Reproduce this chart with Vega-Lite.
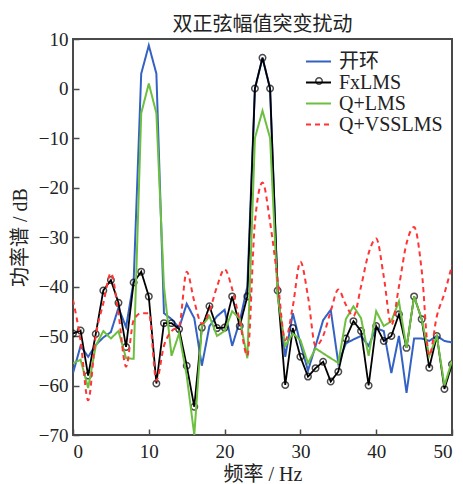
{
  "$schema": "https://vega.github.io/schema/vega-lite/v6.json",
  "width": 379,
  "height": 396,
  "autosize": "none",
  "padding": {"left": 73, "top": 39, "right": 11, "bottom": 49},
  "background": "white",
  "title": {"text": "双正弦幅值突变扰动", "fontSize": 20, "font": "Liberation Serif, Noto Sans CJK SC", "fontWeight": "normal", "color": "#222", "offset": -5},
  "config": {
    "view": {"stroke": "#4a4a4a", "strokeWidth": 2},
    "axis": {"grid": false, "domain": false, "tickColor": "#4a4a4a", "tickWidth": 1.5, "tickSize": -6, "labelFont": "Liberation Serif", "labelFontSize": 19, "labelColor": "#222", "titleFont": "Liberation Serif, Noto Sans CJK SC", "titleFontSize": 20, "titleFontWeight": "normal", "titleColor": "#222"}
  },
  "data": {"values": [
    {"f":0,"s":"开环","v":-57.5},{"f":1,"s":"开环","v":-52},{"f":2,"s":"开环","v":-54.2},{"f":3,"s":"开环","v":-51.8},{"f":4,"s":"开环","v":-50.3},{"f":5,"s":"开环","v":-49.2},{"f":6,"s":"开环","v":-44.3},{"f":7,"s":"开环","v":-48.2},{"f":8,"s":"开环","v":-39},{"f":9,"s":"开环","v":3},{"f":10,"s":"开环","v":8.7},{"f":11,"s":"开环","v":3},{"f":12,"s":"开环","v":-45.4},{"f":13,"s":"开环","v":-46.6},{"f":14,"s":"开环","v":-48.4},{"f":15,"s":"开环","v":-43.5},{"f":16,"s":"开环","v":-46.4},{"f":17,"s":"开环","v":-56},{"f":18,"s":"开环","v":-48},{"f":19,"s":"开环","v":-46},{"f":20,"s":"开环","v":-44.7},{"f":21,"s":"开环","v":-52},{"f":22,"s":"开环","v":-47},{"f":23,"s":"开环","v":-40},{"f":24,"s":"开环","v":0},{"f":25,"s":"开环","v":6.2},{"f":26,"s":"开环","v":0},{"f":27,"s":"开环","v":-41},{"f":28,"s":"开环","v":-54.2},{"f":29,"s":"开环","v":-45.4},{"f":30,"s":"开环","v":-51.5},{"f":31,"s":"开环","v":-57},{"f":32,"s":"开环","v":-52},{"f":33,"s":"开环","v":-46.8},{"f":34,"s":"开环","v":-44.7},{"f":35,"s":"开环","v":-55.5},{"f":36,"s":"开环","v":-51.5},{"f":37,"s":"开环","v":-50.7},{"f":38,"s":"开环","v":-50},{"f":39,"s":"开环","v":-52},{"f":40,"s":"开环","v":-48.4},{"f":41,"s":"开环","v":-49},{"f":42,"s":"开环","v":-57.5},{"f":43,"s":"开环","v":-50},{"f":44,"s":"开环","v":-61.5},{"f":45,"s":"开环","v":-50.5},{"f":46,"s":"开环","v":-50.5},{"f":47,"s":"开环","v":-51},{"f":48,"s":"开环","v":-50},{"f":49,"s":"开环","v":-51},{"f":50,"s":"开环","v":-51.3},
    {"f":0,"s":"FxLMS","v":-49.5},{"f":1,"s":"FxLMS","v":-48.9},{"f":2,"s":"FxLMS","v":-58},{"f":3,"s":"FxLMS","v":-49.6},{"f":4,"s":"FxLMS","v":-40.8},{"f":5,"s":"FxLMS","v":-38.7},{"f":6,"s":"FxLMS","v":-43.3},{"f":7,"s":"FxLMS","v":-52.2},{"f":8,"s":"FxLMS","v":-39.2},{"f":9,"s":"FxLMS","v":-37},{"f":10,"s":"FxLMS","v":-42},{"f":11,"s":"FxLMS","v":-59.6},{"f":12,"s":"FxLMS","v":-47.4},{"f":13,"s":"FxLMS","v":-47.4},{"f":14,"s":"FxLMS","v":-48.6},{"f":15,"s":"FxLMS","v":-56},{"f":16,"s":"FxLMS","v":-64.3},{"f":17,"s":"FxLMS","v":-48.3},{"f":18,"s":"FxLMS","v":-44},{"f":19,"s":"FxLMS","v":-48.4},{"f":20,"s":"FxLMS","v":-48.3},{"f":21,"s":"FxLMS","v":-42},{"f":22,"s":"FxLMS","v":-48},{"f":23,"s":"FxLMS","v":-42},{"f":24,"s":"FxLMS","v":0},{"f":25,"s":"FxLMS","v":6.2},{"f":26,"s":"FxLMS","v":0},{"f":27,"s":"FxLMS","v":-40.8},{"f":28,"s":"FxLMS","v":-59.9},{"f":29,"s":"FxLMS","v":-48.4},{"f":30,"s":"FxLMS","v":-54.2},{"f":31,"s":"FxLMS","v":-58.2},{"f":32,"s":"FxLMS","v":-56.5},{"f":33,"s":"FxLMS","v":-55.2},{"f":34,"s":"FxLMS","v":-59.2},{"f":35,"s":"FxLMS","v":-57.2},{"f":36,"s":"FxLMS","v":-50.5},{"f":37,"s":"FxLMS","v":-47},{"f":38,"s":"FxLMS","v":-49},{"f":39,"s":"FxLMS","v":-60},{"f":40,"s":"FxLMS","v":-48},{"f":41,"s":"FxLMS","v":-51},{"f":42,"s":"FxLMS","v":-50},{"f":43,"s":"FxLMS","v":-45.6},{"f":44,"s":"FxLMS","v":-52.4},{"f":45,"s":"FxLMS","v":-42},{"f":46,"s":"FxLMS","v":-46.6},{"f":47,"s":"FxLMS","v":-56.4},{"f":48,"s":"FxLMS","v":-50},{"f":49,"s":"FxLMS","v":-60.7},{"f":50,"s":"FxLMS","v":-55.7},
    {"f":0,"s":"Q+LMS","v":-55.5},{"f":1,"s":"Q+LMS","v":-54.8},{"f":2,"s":"Q+LMS","v":-60.5},{"f":3,"s":"Q+LMS","v":-52},{"f":4,"s":"Q+LMS","v":-49},{"f":5,"s":"Q+LMS","v":-50.5},{"f":6,"s":"Q+LMS","v":-49},{"f":7,"s":"Q+LMS","v":-54.5},{"f":8,"s":"Q+LMS","v":-54.6},{"f":9,"s":"Q+LMS","v":-5},{"f":10,"s":"Q+LMS","v":1},{"f":11,"s":"Q+LMS","v":-5},{"f":12,"s":"Q+LMS","v":-40},{"f":13,"s":"Q+LMS","v":-54},{"f":14,"s":"Q+LMS","v":-49.5},{"f":15,"s":"Q+LMS","v":-58},{"f":16,"s":"Q+LMS","v":-70},{"f":17,"s":"Q+LMS","v":-48},{"f":18,"s":"Q+LMS","v":-46},{"f":19,"s":"Q+LMS","v":-50},{"f":20,"s":"Q+LMS","v":-49},{"f":21,"s":"Q+LMS","v":-45},{"f":22,"s":"Q+LMS","v":-46.5},{"f":23,"s":"Q+LMS","v":-54.5},{"f":24,"s":"Q+LMS","v":-10},{"f":25,"s":"Q+LMS","v":-4.5},{"f":26,"s":"Q+LMS","v":-10},{"f":27,"s":"Q+LMS","v":-42},{"f":28,"s":"Q+LMS","v":-52},{"f":29,"s":"Q+LMS","v":-49.5},{"f":30,"s":"Q+LMS","v":-50.8},{"f":31,"s":"Q+LMS","v":-55.5},{"f":32,"s":"Q+LMS","v":-52.5},{"f":33,"s":"Q+LMS","v":-53.5},{"f":34,"s":"Q+LMS","v":-54.5},{"f":35,"s":"Q+LMS","v":-55.4},{"f":36,"s":"Q+LMS","v":-46.6},{"f":37,"s":"Q+LMS","v":-44},{"f":38,"s":"Q+LMS","v":-46.4},{"f":39,"s":"Q+LMS","v":-54},{"f":40,"s":"Q+LMS","v":-45},{"f":41,"s":"Q+LMS","v":-48},{"f":42,"s":"Q+LMS","v":-47},{"f":43,"s":"Q+LMS","v":-43},{"f":44,"s":"Q+LMS","v":-52.4},{"f":45,"s":"Q+LMS","v":-42},{"f":46,"s":"Q+LMS","v":-46.6},{"f":47,"s":"Q+LMS","v":-54},{"f":48,"s":"Q+LMS","v":-50},{"f":49,"s":"Q+LMS","v":-60},{"f":50,"s":"Q+LMS","v":-55},
    {"f":0,"s":"Q+VSSLMS","v":-42.7},{"f":1,"s":"Q+VSSLMS","v":-51},{"f":2,"s":"Q+VSSLMS","v":-63},{"f":3,"s":"Q+VSSLMS","v":-50},{"f":4,"s":"Q+VSSLMS","v":-43.4},{"f":5,"s":"Q+VSSLMS","v":-37.3},{"f":6,"s":"Q+VSSLMS","v":-45.5},{"f":7,"s":"Q+VSSLMS","v":-56.2},{"f":8,"s":"Q+VSSLMS","v":-46.8},{"f":9,"s":"Q+VSSLMS","v":-45.4},{"f":10,"s":"Q+VSSLMS","v":-45.4},{"f":11,"s":"Q+VSSLMS","v":-59},{"f":12,"s":"Q+VSSLMS","v":-52},{"f":13,"s":"Q+VSSLMS","v":-49},{"f":14,"s":"Q+VSSLMS","v":-48},{"f":15,"s":"Q+VSSLMS","v":-37},{"f":16,"s":"Q+VSSLMS","v":-43},{"f":17,"s":"Q+VSSLMS","v":-47.5},{"f":18,"s":"Q+VSSLMS","v":-45},{"f":19,"s":"Q+VSSLMS","v":-40},{"f":20,"s":"Q+VSSLMS","v":-36.5},{"f":21,"s":"Q+VSSLMS","v":-40.5},{"f":22,"s":"Q+VSSLMS","v":-47},{"f":23,"s":"Q+VSSLMS","v":-54},{"f":24,"s":"Q+VSSLMS","v":-27},{"f":25,"s":"Q+VSSLMS","v":-19},{"f":26,"s":"Q+VSSLMS","v":-27},{"f":27,"s":"Q+VSSLMS","v":-38.7},{"f":28,"s":"Q+VSSLMS","v":-50.8},{"f":29,"s":"Q+VSSLMS","v":-44},{"f":30,"s":"Q+VSSLMS","v":-35},{"f":31,"s":"Q+VSSLMS","v":-42},{"f":32,"s":"Q+VSSLMS","v":-52},{"f":33,"s":"Q+VSSLMS","v":-50},{"f":34,"s":"Q+VSSLMS","v":-45},{"f":35,"s":"Q+VSSLMS","v":-40.6},{"f":36,"s":"Q+VSSLMS","v":-43.7},{"f":37,"s":"Q+VSSLMS","v":-46},{"f":38,"s":"Q+VSSLMS","v":-40},{"f":39,"s":"Q+VSSLMS","v":-33.3},{"f":40,"s":"Q+VSSLMS","v":-30.3},{"f":41,"s":"Q+VSSLMS","v":-38},{"f":42,"s":"Q+VSSLMS","v":-47.8},{"f":43,"s":"Q+VSSLMS","v":-40},{"f":44,"s":"Q+VSSLMS","v":-31.3},{"f":45,"s":"Q+VSSLMS","v":-28},{"f":46,"s":"Q+VSSLMS","v":-36.7},{"f":47,"s":"Q+VSSLMS","v":-54},{"f":48,"s":"Q+VSSLMS","v":-46},{"f":49,"s":"Q+VSSLMS","v":-41.4},{"f":50,"s":"Q+VSSLMS","v":-35.7}
  ]},
  "encoding": {
    "x": {"field": "f", "type": "quantitative", "scale": {"domain": [0, 50], "nice": false}, "axis": {"values": [0, 10, 20, 30, 40, 50], "title": "频率 / Hz", "titlePadding": 3, "labelPadding": 13}},
    "y": {"field": "v", "type": "quantitative", "scale": {"domain": [-70, 10], "nice": false}, "axis": {"values": [-70, -60, -50, -40, -30, -20, -10, 0, 10], "title": "功率谱 / dB", "titlePadding": 8, "labelPadding": 11}}
  },
  "layer": [
    {"transform": [{"filter": "datum.s === '开环'"}], "mark": {"type": "line", "strokeWidth": 2, "clip": true},
     "encoding": {"color": {"field": "s", "type": "nominal", "scale": {"domain": ["开环", "FxLMS", "Q+LMS", "Q+VSSLMS"], "range": ["#3461c4", "#000000", "#6cbf3f", "#ff3535"]}, "legend": {"orient": "none", "legendX": 232, "legendY": 13, "title": null, "symbolType": "stroke", "symbolSize": 625, "symbolStrokeWidth": 2, "labelFont": "Liberation Serif, Noto Sans CJK SC", "labelFontSize": 20, "labelColor": "#222", "rowPadding": 0, "clipHeight": 19, "labelOffset": 7}},
                  "strokeDash": {"field": "s", "type": "nominal", "scale": {"domain": ["开环", "FxLMS", "Q+LMS", "Q+VSSLMS"], "range": [[1, 0], [1, 0], [1, 0], [5, 4]]}}}},
    {"transform": [{"filter": "datum.s === 'FxLMS'"}], "mark": {"type": "line", "strokeWidth": 1.8, "clip": true},
     "encoding": {"color": {"field": "s", "type": "nominal"}, "strokeDash": {"field": "s", "type": "nominal"}}},
    {"transform": [{"filter": "datum.s === 'FxLMS'"}], "mark": {"type": "point", "filled": false, "stroke": "black", "strokeWidth": 1.5, "size": 42, "clip": true},
     "encoding": {"shape": {"field": "s", "type": "nominal", "scale": {"domain": ["FxLMS"], "range": ["circle"]}, "legend": {"orient": "none", "legendX": 236, "legendY": 32, "title": null, "symbolSize": 42, "symbolStrokeColor": "black", "symbolStrokeWidth": 1.5, "symbolFillColor": "transparent", "labelExpr": "''", "labelFontSize": 20}}}},
    {"transform": [{"filter": "datum.s === 'Q+LMS'"}], "mark": {"type": "line", "strokeWidth": 2, "clip": true},
     "encoding": {"color": {"field": "s", "type": "nominal"}, "strokeDash": {"field": "s", "type": "nominal"}}},
    {"transform": [{"filter": "datum.s === 'Q+VSSLMS'"}], "mark": {"type": "line", "strokeWidth": 2, "interpolate": "monotone", "clip": true},
     "encoding": {"color": {"field": "s", "type": "nominal"}, "strokeDash": {"field": "s", "type": "nominal"}}}
  ]
}
